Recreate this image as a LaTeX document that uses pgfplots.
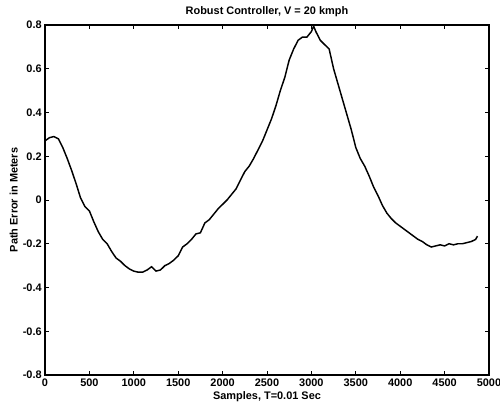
\documentclass[border=0pt]{standalone}
\usepackage{pgfplots}
\pgfplotsset{compat=1.18}
\usepackage{fontspec}
\setmainfont{Liberation Sans}

\pgfplotstableread{
s v
0 0.27
50 0.285
100 0.29
150 0.28
200 0.24
250 0.19
300 0.135
350 0.075
400 0.01
450 -0.03
500 -0.05
550 -0.10
600 -0.145
650 -0.18
700 -0.20
750 -0.235
800 -0.265
850 -0.28
900 -0.30
950 -0.315
1000 -0.325
1050 -0.33
1100 -0.33
1150 -0.32
1200 -0.305
1250 -0.325
1300 -0.32
1350 -0.30
1400 -0.29
1450 -0.275
1500 -0.255
1550 -0.215
1600 -0.20
1650 -0.18
1700 -0.155
1750 -0.15
1800 -0.105
1850 -0.09
1900 -0.065
1950 -0.04
2000 -0.02
2050 0.0
2100 0.025
2150 0.05
2200 0.09
2250 0.13
2300 0.155
2350 0.19
2400 0.23
2450 0.27
2500 0.32
2550 0.37
2600 0.43
2650 0.50
2700 0.56
2750 0.64
2800 0.69
2850 0.73
2900 0.745
2950 0.745
3000 0.77
3025 0.795
3050 0.77
3100 0.73
3150 0.71
3200 0.69
3250 0.60
3300 0.53
3350 0.46
3400 0.39
3450 0.32
3500 0.24
3550 0.19
3600 0.155
3650 0.11
3700 0.06
3750 0.02
3800 -0.025
3850 -0.06
3900 -0.085
3950 -0.105
4000 -0.12
4050 -0.135
4100 -0.15
4150 -0.165
4200 -0.18
4250 -0.19
4300 -0.205
4350 -0.215
4400 -0.21
4450 -0.205
4500 -0.21
4550 -0.20
4600 -0.205
4650 -0.20
4700 -0.20
4750 -0.195
4800 -0.19
4850 -0.18
4870 -0.165
}\patherr

\begin{document}
\begin{tikzpicture}
  % page = 500x407 px at 0.75pt/px, axis box from (45,25) to (489,375)
  \path[use as bounding box] (-33.75pt,-24pt) rectangle (341.25pt,281.25pt);
  \begin{axis}[
    at={(0,0)}, anchor=south west,
    scale only axis,
    width=333pt, height=262.5pt,
    xmin=0, xmax=5000,
    ymin=-0.8, ymax=0.8,
    xtick={0,500,...,5000},
    ytick={-0.8,-0.6,...,0.8},
    yticklabels={-0.8,-0.6,-0.4,-0.2,0,0.2,0.4,0.6,0.8},
    scaled x ticks=false,
    /pgf/number format/1000 sep={},
    /pgf/number format/assume math mode=true,
    tick align=inside,
    major tick length=3pt,
    tick style={black, line width=0.7pt},
    axis line style={line width=0.8pt},
    font=\fontsize{8.2}{9}\selectfont\bfseries,
    title={Robust Controller, V = 20 kmph},
    title style={yshift=-3pt},
    xlabel={Samples, T=0.01 Sec},
    ylabel={Path Error in Meters},
    xlabel style={yshift=3pt},
    ylabel style={yshift=-3pt},
    xticklabel style={yshift=0.5pt},
    yticklabel style={xshift=1pt},
  ]
    \addplot[black, line width=1.1pt, no markers] table[x=s, y=v] {\patherr};
  \end{axis}
\end{tikzpicture}
\end{document}
